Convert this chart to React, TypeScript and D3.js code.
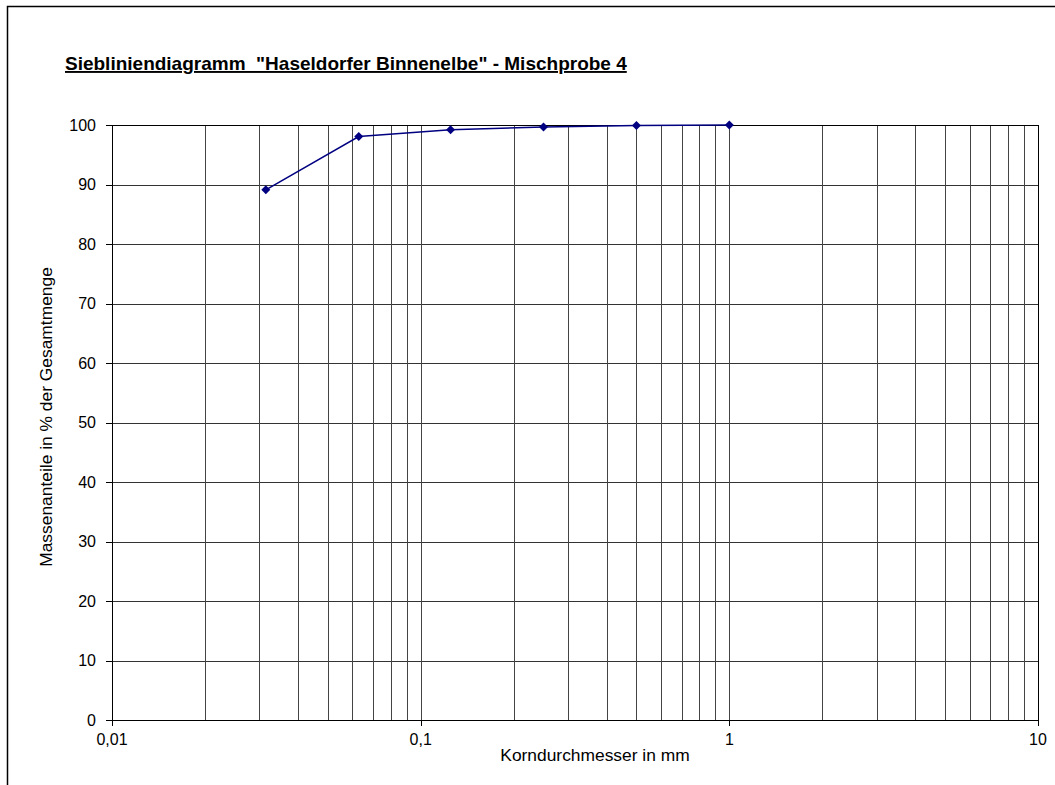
import React from "react";
import * as d3 from "d3";

const sieveSizes = [0.0315, 0.063, 0.125, 0.25, 0.5, 1];
const passingPct = [89.1, 98.05, 99.2, 99.65, 99.9, 100];
const yTicks = [0, 10, 20, 30, 40, 50, 60, 70, 80, 90, 100];
const xMajor = [0.01, 0.1, 1, 10];
const xMajorLabels = ["0,01", "0,1", "1", "10"];
const title = "Siebliniendiagramm  \"Haseldorfer Binnenelbe\" - Mischprobe 4";
const xTitle = "Korndurchmesser in mm";
const yTitle = "Massenanteile in % der Gesamtmenge";

export default function App() {
  const W = 1055, H = 785;
  const left = 112, right = 1038, top = 125, bottom = 720;
  const x = d3.scaleLog().domain([0.01, 10]).range([left, right]);
  const y = d3.scaleLinear().domain([0, 100]).range([bottom, top]);
  const minor: number[] = [];
  for (const d of [0.01, 0.1, 1]) for (let k = 2; k <= 9; k++) minor.push(+(d * k).toFixed(4));
  const line = d3.line<number>().x((_, i) => x(sieveSizes[i])).y((v) => y(v));
  const font = "'Liberation Sans', Arial, sans-serif";
  const r = (v: number) => Math.round(v) + 0.5;
  const m = 4.5;
  const diamond = `M0,${-m}L${m},0L0,${m}L${-m},0Z`;
  return (
    <svg width={W} height={H} style={{ position: "absolute", left: 0, top: 0 }} fontFamily={font}>
      <rect x={0} y={0} width={W} height={H} fill="#fff" />
      <rect x={7.5} y={6.5} width={1200} height={1000} fill="none" stroke="#000" strokeWidth={1.5} />
      <text x={65} y={70} fontSize={19} fontWeight="bold" textDecoration="underline" style={{ whiteSpace: "pre" }}>{title}</text>
      <g shapeRendering="crispEdges">
        {yTicks.filter((t) => t > 0).map((t) => (
          <line key={"h" + t} x1={left} x2={right} y1={r(y(t))} y2={r(y(t))} stroke="#333" strokeWidth={1} />
        ))}
        {minor.concat([0.1, 1]).map((t) => (
          <line key={"v" + t} x1={r(x(t))} x2={r(x(t))} y1={top} y2={bottom} stroke="#444" strokeWidth={1} />
        ))}
        <line x1={r(x(10))} x2={r(x(10))} y1={top} y2={bottom} stroke="#000" strokeWidth={1.5} />
        <line x1={left} x2={right} y1={r(top)} y2={r(top)} stroke="#000" strokeWidth={1.5} />
        <line x1={r(left)} x2={r(left)} y1={top} y2={bottom} stroke="#000" strokeWidth={1.5} />
        <line x1={left} x2={right} y1={r(bottom)} y2={r(bottom)} stroke="#000" strokeWidth={1.5} />
        {yTicks.map((t) => (
          <line key={"yt" + t} x1={left - 6} x2={left} y1={r(y(t))} y2={r(y(t))} stroke="#000" />
        ))}
        {xMajor.map((t) => (
          <line key={"xt" + t} x1={r(x(t))} x2={r(x(t))} y1={bottom} y2={bottom + 6} stroke="#000" />
        ))}
      </g>
      {yTicks.map((t) => (
        <text key={"yl" + t} x={96} y={y(t) + 5.5} fontSize={16} textAnchor="end" fill="#000">{t}</text>
      ))}
      {xMajor.map((t, i) => (
        <text key={"xl" + t} x={x(t)} y={745} fontSize={16} textAnchor="middle" fill="#000">{xMajorLabels[i]}</text>
      ))}
      <text x={595} y={761} fontSize={17.4} textAnchor="middle">{xTitle}</text>
      <text transform={`translate(52,417) rotate(-90)`} fontSize={17.4} textAnchor="middle">{yTitle}</text>
      <path d={line(passingPct) || ""} fill="none" stroke="#000080" strokeWidth={1.5} />
      {passingPct.map((v, i) => (
        <path key={"m" + i} d={diamond} transform={`translate(${x(sieveSizes[i])},${y(v)})`} fill="#000080" />
      ))}
    </svg>
  );
}
